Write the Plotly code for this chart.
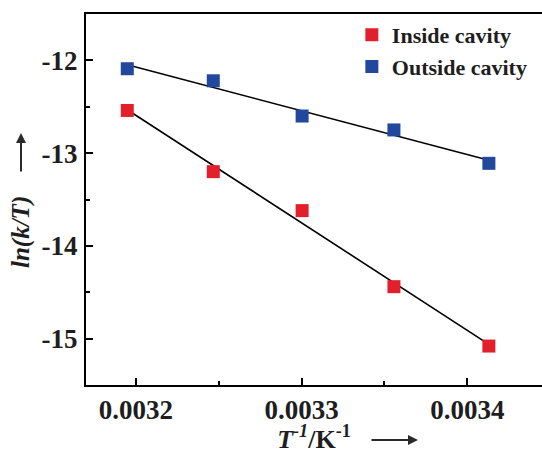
import numpy as np
import plotly.graph_objects as go

# Reciprocal temperature (1/K) for 313, 308, 303, 298, 293 K
inv_T = [1 / 313, 1 / 308, 1 / 303, 1 / 298, 1 / 293]
ln_k_T_inside = [-12.54, -13.20, -13.62, -14.44, -15.08]
ln_k_T_outside = [-12.09, -12.22, -12.60, -12.75, -13.11]

series_names = ["Inside cavity", "Outside cavity"]
x_tick_vals = [0.0032, 0.0033, 0.0034]
x_tick_text = ["0.0032", "0.0033", "0.0034"]
y_tick_vals = [-12, -13, -14, -15]
y_tick_text = ["-12", "-13", "-14", "-15"]

RED = "#e2202c"
BLUE = "#21489c"
SERIF = "Liberation Serif"
INK = "#1e1e1e"

# plot area in pixels (for placing the axis-title arrows)
W, H = 542, 454
ML, MR, MT, MB = 86, 0, 14, 69
PW, PH = W - ML - MR, H - MT - MB


def bold(s):
    return f"<b>{s}</b>"


def px_to_paper(px, py):
    return (px - ML) / PW, (H - MB - py) / PH


fig = go.Figure()

# Linear (Eyring) fits through each series
for ys in (ln_k_T_inside, ln_k_T_outside):
    slope, icpt = np.polyfit(inv_T, ys, 1)
    xs = np.array([min(inv_T), max(inv_T)])
    fig.add_trace(go.Scatter(
        x=xs, y=slope * xs + icpt, mode="lines",
        line=dict(color="black", width=1.6), showlegend=False, hoverinfo="skip",
    ))

for name, ys, col in zip(series_names, (ln_k_T_inside, ln_k_T_outside), (RED, BLUE)):
    fig.add_trace(go.Scatter(
        x=inv_T, y=ys, mode="markers", name=bold(name),
        marker=dict(symbol="square", size=13, color=col, line=dict(width=0)),
    ))

axis_common = dict(
    showgrid=False, zeroline=False, showline=True, linecolor="black", linewidth=2,
    ticks="inside", ticklen=7, tickwidth=2, tickcolor="black",
    tickfont=dict(family=SERIF, size=27, color=INK),
)

fig.update_xaxes(
    **axis_common,
    range=[0.00317, 0.003445], mirror=True,
    tickvals=x_tick_vals, ticktext=[bold(t) for t in x_tick_text],
    minor=dict(tickvals=[0.00325, 0.00335], ticklen=4, tickwidth=1.5, tickcolor="black", ticks="inside"),
    title=dict(
        text="<b><i>T</i><sup><i>-1</i></sup>/K<sup>-1</sup></b>",
        font=dict(family=SERIF, size=26, color=INK),
        standoff=10,
    ),
)
fig.update_yaxes(
    **axis_common,
    range=[-15.5, -11.5], mirror=False,
    tickvals=y_tick_vals, ticktext=[bold(t) for t in y_tick_text], ticklabelstandoff=1,
    minor=dict(tickvals=[-12.5, -13.5, -14.5], ticklen=4, tickwidth=1.5, tickcolor="black", ticks="inside"),
)

# y-axis title, placed beside the arrow
yt_x, yt_y = px_to_paper(21, 232)
fig.add_annotation(
    x=yt_x, y=yt_y, xref="paper", yref="paper", showarrow=False,
    text="<b><i>ln(k/T)</i></b>", textangle=-90,
    font=dict(family=SERIF, size=25, color=INK),
    xanchor="center", yanchor="middle",
)

# direction arrows next to the axis titles
for (hx, hy), (dx, dy) in (((21, 133), (0, 40)), ((418, 440), (-48, 0))):
    ax_, ay_ = px_to_paper(hx, hy)
    fig.add_annotation(
        x=ax_, y=ay_, xref="paper", yref="paper", text="",
        showarrow=True, ax=dx, ay=dy, arrowhead=2, arrowsize=1,
        arrowwidth=2, arrowcolor="#2a2a2a",
    )

fig.update_layout(
    width=W, height=H,
    margin=dict(l=ML, r=MR, t=MT, b=MB),
    paper_bgcolor="white", plot_bgcolor="white",
    legend=dict(
        x=0.583, y=1.0, xanchor="left", yanchor="top",
        bgcolor="rgba(0,0,0,0)",
        font=dict(family=SERIF, size=22, color=INK),
        itemwidth=30, tracegroupgap=0,
    ),
)

fig.write_html("out.html")
